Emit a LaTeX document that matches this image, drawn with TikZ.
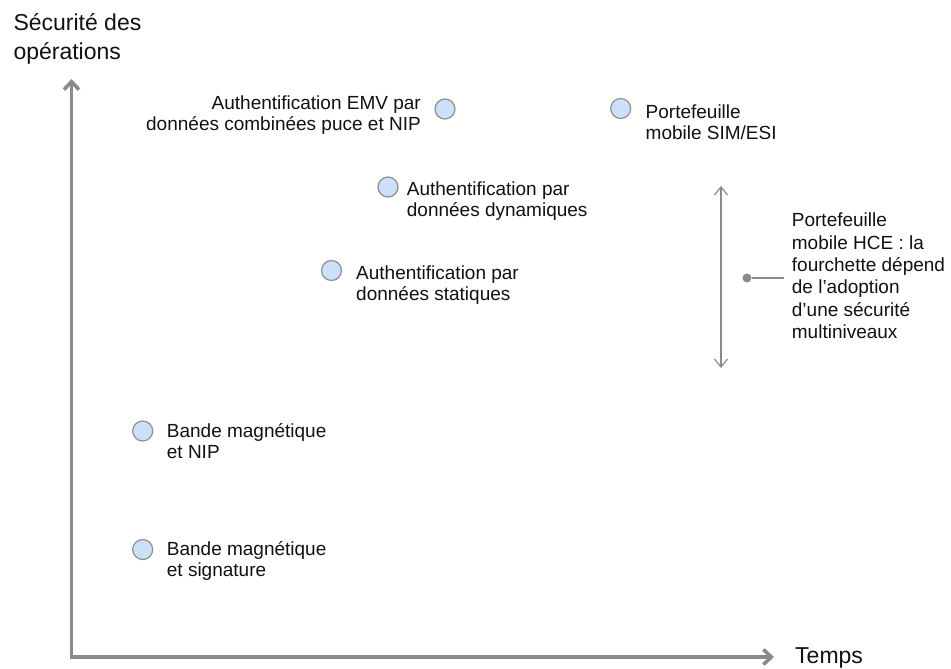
\documentclass[tikz,border=0pt]{standalone}
\usepackage{fontspec}
\setmainfont{Liberation Sans}
\usetikzlibrary{arrows.meta}
\definecolor{axisgray}{HTML}{8A8A8A}
\definecolor{rimgray}{HTML}{8E8E8E}
\definecolor{dotblue}{HTML}{CCE0F9}
\definecolor{inkblack}{HTML}{111111}
\tikzset{
	axisline/.style={line width=3.6pt,draw=axisgray,line join=miter,
		{Straight Barb[length=8pt,width=15pt]}-{Straight Barb[length=8pt,width=15pt]}},
	spanarrow/.style={line width=1.2pt,draw=axisgray,
		{Straight Barb[length=8pt,width=13pt]}-{Straight Barb[length=8pt,width=13pt]}},
	marker/.style={circle,minimum size=20pt,inner sep=0pt,fill=dotblue,draw=rimgray,line width=1.2pt},
	pindot/.style={circle,minimum size=9pt,inner sep=0pt,fill=axisgray},
	leader/.style={line width=1.5pt,draw=axisgray},
	lbl/.style={inner sep=0pt,text=inkblack,font=\fontsize{19}{21}\selectfont},
	axlbl/.style={inner sep=0pt,text=inkblack,font=\fontsize{23}{29.5}\selectfont}
}

\begin{document}
\begin{tikzpicture}[x=1pt,y=-1pt]
	  \useasboundingbox (0,0) rectangle (951,669);
	  \coordinate (o) at (71.5,657);
	  \coordinate (ytip) at (71.5,79);
	  \coordinate (xtip) at (774,657);
	  \draw[axisline] (ytip) -- (o) -- (xtip);
	  \node[axlbl,anchor=north west,align=left] (ylab) at (13.3,13) {Sécurité des\\opérations};
	  \node[axlbl,anchor=base west] (xlab) at (795,663) {Temps};
	  \node[marker] (c-emv) at (445,109) {};
	  \node[marker] (c-sim) at (620.7,108.5) {};
	  \node[marker] (c-dyn) at (388,187) {};
	  \node[marker] (c-stat) at (331.5,270.5) {};
	  \node[marker] (c-nip) at (142.7,431) {};
	  \node[marker] (c-sig) at (142.7,549.5) {};
	  \node[lbl,anchor=north east,align=right] (l-emv) at (421,96) {Authentification EMV par\\données combinées puce et NIP};
	  \node[lbl,anchor=north west,align=left] (l-sim) at (645.5,104.5) {Portefeuille\\mobile SIM/ESI};
	  \node[lbl,anchor=north west,align=left] (l-dyn) at (406.7,181.2) {Authentification par\\données dynamiques};
	  \node[lbl,anchor=north west,align=left] (l-stat) at (356,266) {Authentification par\\données statiques};
	  \node[lbl,anchor=north west,align=left] (l-nip) at (166.7,423) {Bande magnétique\\et NIP};
	  \node[lbl,anchor=north west,align=left] (l-sig) at (166.7,541.2) {Bande magnétique\\et signature};
	  \coordinate (r-top) at (721,186);
	  \coordinate (r-bot) at (721,368);
	  \draw[spanarrow] (r-top) -- (r-bot);
	  \node[pindot] (hce-dot) at (747,278) {};
	  \coordinate (hce-end) at (784,278);
	  \draw[leader] (hce-dot) -- (hce-end);
	  \node[lbl,anchor=north west,align=left,font=\fontsize{19}{22.3}\selectfont] (l-hce) at (791.7,213) {Portefeuille\\mobile HCE : la\\fourchette dépend\\de l’adoption\\d’une sécurité\\multiniveaux};
	\end{tikzpicture}
\end{document}
